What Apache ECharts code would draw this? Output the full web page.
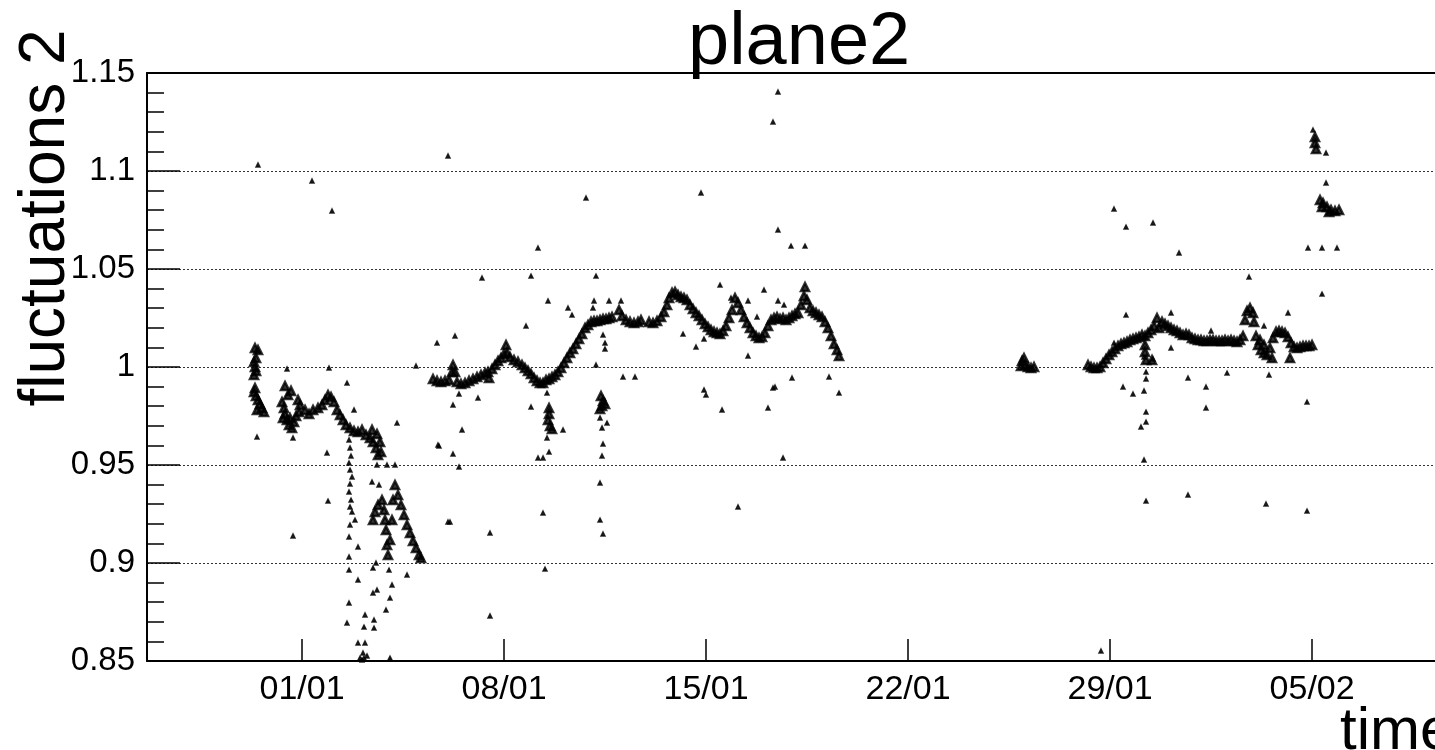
<!DOCTYPE html>
<html>
<head>
<meta charset="utf-8">
<title>plane2</title>
<script src="https://cdn.jsdelivr.net/npm/echarts@6/dist/echarts.min.js"></script>
<style>
  html, body { margin: 0; padding: 0; background: #fff; }
  #chart { width: 1435px; height: 750px; }
</style>
</head>
<body>
<div id="chart"></div>
<script>
// x = days since 01/01 00:00, y = fluctuation value
let xRange = [-5.371, 39.258];
let yRange = [0.85, 1.15];
let tickDays = [0, 7, 14, 21, 28, 35];
let tickLabels = ["01/01", "08/01", "15/01", "22/01", "29/01", "05/02"];

// dense runs (the thick band)
let run1 = [
    [-1.629, 1.0097], [-1.525, 1.0087], [-1.594, 1.0046], [-1.663, 1.0026], [-1.629, 1.0000], [-1.594, 0.9980],
    [-1.663, 0.9959], [-1.629, 0.9893], [-1.663, 0.9872], [-1.594, 0.9852], [-1.525, 0.9832], [-1.455, 0.9811],
    [-1.386, 0.9791], [-1.559, 0.9781], [-1.317, 0.9770],
    [-0.693, 0.9821], [-0.624, 0.9791], [-0.589, 0.9760], [-0.520, 0.9730], [-0.450, 0.9704], [-0.347, 0.9689],
    [-0.277, 0.9719], [-0.208, 0.9750], [-0.485, 0.9857], [-0.589, 0.9903], [-0.381, 0.9878], [-0.139, 0.9832],
    [-0.069, 0.9806], [-0.104, 0.9770], [-0.658, 0.9740], [-0.416, 0.9740],
    [0.104, 0.9781], [0.243, 0.9760], [0.381, 0.9781], [0.554, 0.9791], [0.693, 0.9806], [0.797, 0.9832],
    [0.901, 0.9857], [1.005, 0.9847], [1.109, 0.9821], [1.213, 0.9781], [1.317, 0.9755], [1.421, 0.9730],
    [1.525, 0.9704], [1.663, 0.9689], [1.802, 0.9673], [1.940, 0.9668], [2.079, 0.9679], [2.218, 0.9653],
    [2.356, 0.9638], [2.460, 0.9617], [2.564, 0.9587], [2.633, 0.9551], [2.426, 0.9679], [2.599, 0.9658],
    [2.703, 0.9617], [2.737, 0.9566],
    [2.460, 0.9219], [2.529, 0.9260], [2.633, 0.9296], [2.772, 0.9321], [2.842, 0.9270], [2.876, 0.9219],
    [2.911, 0.9168], [2.945, 0.9092], [2.980, 0.9041], [3.049, 0.9117], [3.118, 0.9219], [3.153, 0.9321],
    [3.222, 0.9398], [3.326, 0.9347], [3.430, 0.9296], [3.534, 0.9245], [3.638, 0.9194], [3.742, 0.9153],
    [3.846, 0.9112], [3.950, 0.9077], [4.054, 0.9041], [4.123, 0.9026]
];
let run2 = [
    [4.539, 0.9939], [4.678, 0.9929], [4.816, 0.9923], [4.955, 0.9929], [5.094, 0.9934], [5.198, 0.9974],
    [5.232, 1.0010], [5.301, 0.9974], [5.371, 0.9923], [5.509, 0.9913], [5.648, 0.9918], [5.787, 0.9929],
    [5.925, 0.9939], [6.064, 0.9949], [6.202, 0.9959], [6.341, 0.9969], [6.445, 0.9974], [6.480, 0.9944],
    [6.584, 0.9990], [6.687, 1.0010], [6.791, 1.0031], [6.895, 1.0046], [6.999, 1.0066], [7.069, 1.0112],
    [7.103, 1.0071], [7.207, 1.0051], [7.346, 1.0036], [7.484, 1.0026], [7.623, 1.0010], [7.727, 0.9995],
    [7.831, 0.9980], [7.935, 0.9964], [8.039, 0.9944], [8.143, 0.9929], [8.247, 0.9918], [8.351, 0.9918],
    [8.455, 0.9934], [8.559, 0.9939], [8.662, 0.9949], [8.766, 0.9959], [8.870, 0.9974], [8.974, 0.9995],
    [9.078, 1.0020], [9.182, 1.0046], [9.286, 1.0071], [9.390, 1.0092], [9.494, 1.0117], [9.598, 1.0143],
    [9.702, 1.0168], [9.806, 1.0199], [9.910, 1.0214], [10.014, 1.0230], [10.118, 1.0235], [10.222, 1.0235],
    [10.326, 1.0240], [10.430, 1.0245], [10.534, 1.0245], [10.638, 1.0250], [10.742, 1.0255],
    [10.360, 0.9852], [10.430, 0.9827], [10.395, 0.9801], [10.499, 0.9811], [10.326, 0.9786],
    [8.559, 0.9791], [8.559, 0.9760], [8.524, 0.9730], [8.593, 0.9699], [8.662, 0.9684],
    [10.984, 1.0291], [11.088, 1.0260], [11.227, 1.0240], [11.365, 1.0230], [11.504, 1.0224], [11.642, 1.0230],
    [11.746, 1.0240],
    [12.024, 1.0230], [12.162, 1.0224], [12.301, 1.0235], [12.440, 1.0255], [12.543, 1.0281], [12.647, 1.0316],
    [12.717, 1.0352], [12.821, 1.0378], [12.924, 1.0383], [13.028, 1.0367], [13.132, 1.0357], [13.236, 1.0352],
    [13.340, 1.0342], [13.444, 1.0316], [13.548, 1.0296], [13.652, 1.0276], [13.756, 1.0260], [13.860, 1.0240],
    [13.964, 1.0219], [14.068, 1.0204], [14.172, 1.0189], [14.276, 1.0179], [14.380, 1.0173], [14.484, 1.0168],
    [14.588, 1.0184], [14.692, 1.0209], [14.796, 1.0250], [14.900, 1.0291], [15.003, 1.0352], [15.107, 1.0327],
    [15.211, 1.0291], [15.315, 1.0255], [15.419, 1.0224], [15.523, 1.0199], [15.627, 1.0173], [15.731, 1.0158],
    [15.835, 1.0148], [15.939, 1.0153], [16.043, 1.0173], [16.147, 1.0209], [16.251, 1.0240], [16.355, 1.0250],
    [16.459, 1.0255], [16.563, 1.0245], [16.667, 1.0250], [16.771, 1.0240], [16.875, 1.0250], [16.979, 1.0260],
    [17.082, 1.0270], [17.186, 1.0276], [17.290, 1.0316], [17.394, 1.0362], [17.429, 1.0408], [17.498, 1.0342],
    [17.602, 1.0301], [17.706, 1.0286], [17.810, 1.0276], [17.914, 1.0265], [18.018, 1.0255], [18.122, 1.0230],
    [18.226, 1.0199], [18.330, 1.0158], [18.434, 1.0117], [18.538, 1.0087], [18.607, 1.0056]
];
let run3 = [
    [24.948, 1.0031], [25.052, 1.0010], [25.156, 1.0000], [25.260, 0.9995], [25.364, 1.0000], [24.913, 1.0005],
    [25.017, 1.0046]
];
let run4 = [
    [27.235, 1.0010], [27.339, 1.0000], [27.443, 0.9995], [27.547, 0.9995], [27.651, 1.0000], [27.755, 1.0020],
    [27.859, 1.0041], [27.963, 1.0061], [28.067, 1.0077], [28.170, 1.0092], [28.274, 1.0107], [28.378, 1.0117],
    [28.482, 1.0122], [28.586, 1.0128], [28.690, 1.0138], [28.794, 1.0143], [28.898, 1.0148], [29.002, 1.0153],
    [29.106, 1.0163], [29.210, 1.0158], [29.314, 1.0173], [29.418, 1.0189], [29.522, 1.0209], [29.626, 1.0250],
    [29.695, 1.0199], [29.799, 1.0230], [29.903, 1.0219], [30.007, 1.0209], [30.111, 1.0199], [30.215, 1.0189],
    [30.319, 1.0184], [30.423, 1.0173], [30.527, 1.0163], [30.631, 1.0168], [30.735, 1.0163], [30.838, 1.0148],
    [30.942, 1.0143], [31.046, 1.0138], [31.150, 1.0138], [31.254, 1.0133], [31.358, 1.0133], [31.462, 1.0138],
    [31.566, 1.0138], [31.670, 1.0133], [31.774, 1.0133], [31.878, 1.0133], [31.982, 1.0138], [32.086, 1.0133],
    [32.190, 1.0138], [32.294, 1.0133], [32.398, 1.0128], [32.502, 1.0138], [32.606, 1.0158], [32.675, 1.0240],
    [32.744, 1.0286], [32.848, 1.0301], [32.952, 1.0276], [32.987, 1.0230], [33.056, 1.0158], [33.125, 1.0112],
    [33.229, 1.0087], [33.333, 1.0071], [33.437, 1.0061], [33.541, 1.0097], [33.645, 1.0148], [33.749, 1.0179],
    [33.853, 1.0184], [33.957, 1.0179], [34.061, 1.0173], [34.165, 1.0153], [34.269, 1.0122], [34.373, 1.0102],
    [34.477, 1.0097], [34.581, 1.0102], [34.685, 1.0107], [34.789, 1.0107], [34.893, 1.0107], [34.997, 1.0112],
    [29.210, 1.0112], [29.210, 1.0077], [29.245, 1.0036], [29.453, 1.0036], [33.195, 1.0138], [33.333, 1.0112],
    [33.610, 1.0046], [34.234, 1.0046]
];
let run5 = [
    [35.100, 1.1173], [35.100, 1.1143], [35.135, 1.1112], [35.274, 1.0852], [35.378, 1.0837], [35.516, 1.0816],
    [35.655, 1.0801], [35.793, 1.0796], [35.932, 1.0801], [35.343, 1.0816], [35.586, 1.0791]
];

// isolated points
let stray1 = [
    [-1.559, 0.9643], [-0.312, 0.9638], [-0.520, 0.9990], [0.936, 0.9995], [1.559, 0.9918], [1.802, 0.9781],
    [3.292, 0.9714], [3.950, 1.0005], [4.678, 1.0122], [4.712, 0.9602], [0.866, 0.9561], [0.901, 0.9316],
    [-0.312, 0.9138], [3.638, 0.8939], [5.059, 0.9209], [2.426, 0.9413], [2.668, 0.9398], [2.599, 0.9500],
    [2.945, 0.9500], [3.222, 0.9500], [1.940, 0.8913], [1.629, 0.8796], [1.559, 0.8694], [2.183, 0.8735],
    [2.148, 0.8673], [2.495, 0.8709], [2.495, 0.8668], [2.183, 0.8592], [1.940, 0.8592], [2.114, 0.8541],
    [2.010, 0.8515], [2.148, 0.8515], [2.252, 0.8526], [2.079, 0.8505], [2.460, 0.8974], [2.564, 0.9000],
    [3.015, 0.8964], [3.118, 0.8888], [3.049, 0.8821], [2.911, 0.8760], [2.599, 0.8862], [2.460, 0.8847],
    [1.629, 0.9133], [1.663, 0.9194], [1.629, 0.9031], [1.629, 0.8964], [1.940, 0.9082], [3.049, 0.8515],
    [-1.525, 1.1031], [0.347, 1.0949], [1.040, 1.0796], [1.733, 0.9260], [1.836, 0.9219],
    [1.629, 0.9628], [1.663, 0.9587], [1.698, 0.9546], [1.629, 0.9510], [1.663, 0.9474], [1.733, 0.9439],
    [1.663, 0.9403], [1.629, 0.9362], [1.698, 0.9321], [1.663, 0.9286]
];
let stray2 = [
    [5.059, 1.1077], [9.841, 1.0862], [8.177, 1.0607], [6.237, 1.0454], [7.935, 1.0464], [10.187, 1.0464],
    [8.524, 1.0337], [9.217, 1.0301], [9.355, 1.0265], [10.118, 1.0337], [10.083, 1.0301], [10.638, 1.0337],
    [11.053, 1.0337], [7.762, 1.0209], [5.301, 1.0158], [5.440, 0.9862], [5.232, 0.9806], [6.098, 0.9842],
    [5.544, 0.9679], [4.747, 0.9597], [5.232, 0.9556], [5.440, 0.9490], [7.935, 0.9796], [9.044, 0.9679],
    [5.128, 0.9209], [6.514, 0.9153], [6.514, 0.8730], [11.123, 0.9949], [11.538, 0.9949], [8.489, 0.9867],
    [8.489, 0.9638], [8.559, 0.9566], [8.177, 0.9536], [8.351, 0.9536], [8.351, 0.9255], [8.420, 0.8969],
    [10.326, 0.9740], [10.568, 0.9714], [10.395, 0.9689], [10.430, 0.9607], [10.395, 0.9546], [10.326, 0.9408],
    [10.326, 0.9219], [10.430, 0.9148], [10.430, 1.0163], [10.499, 1.0122], [10.499, 1.0092], [10.187, 1.0010],
    [16.493, 1.1403], [16.320, 1.1250], [13.825, 1.0888], [16.493, 1.0699], [16.944, 1.0617], [17.429, 1.0617],
    [14.484, 1.0418], [16.008, 1.0393], [14.865, 1.0352], [15.454, 1.0337], [16.493, 1.0337], [16.701, 1.0316],
    [13.202, 1.0168], [13.929, 1.0143], [13.652, 1.0102], [15.766, 1.0255], [15.454, 1.0056], [16.979, 0.9944],
    [18.261, 0.9949], [18.607, 0.9867], [13.929, 0.9883], [13.998, 0.9857], [14.553, 0.9781], [16.147, 0.9791],
    [16.320, 0.9893], [16.389, 0.9898], [16.667, 0.9536], [15.107, 0.9286]
];
let stray4 = [
    [32.814, 1.0459], [28.136, 1.0806], [28.552, 1.0714], [29.487, 1.0735], [30.388, 1.0582], [28.552, 1.0265],
    [30.111, 1.0276], [34.165, 1.0276], [28.136, 1.0122], [30.111, 1.0097], [31.497, 1.0184], [33.333, 1.0209],
    [29.175, 1.0051], [29.487, 1.0041], [29.245, 0.9974], [29.245, 0.9939], [28.448, 0.9898], [28.794, 0.9862],
    [29.175, 0.9878], [30.700, 0.9944], [31.324, 0.9898], [32.052, 0.9969], [33.507, 0.9959], [34.823, 0.9821],
    [31.324, 0.9791], [29.245, 0.9770], [29.245, 0.9719], [29.071, 0.9694], [29.175, 0.9526], [29.245, 0.9316],
    [30.700, 0.9347], [33.403, 0.9301], [34.823, 0.9265], [27.685, 0.8551]
];
let stray5 = [
    [35.031, 1.1209], [35.482, 1.1092], [35.482, 1.0939], [34.858, 1.0607], [35.343, 1.0607], [35.863, 1.0607],
    [35.343, 1.0372]
];

let fontFam = "Liberation Sans, Arial, Helvetica, sans-serif";
let chartDom = document.getElementById("chart");
let myChart = echarts.init(chartDom);
let option;
option = {
    animation: false,
    backgroundColor: "#fff",
    title: {
        text: "plane2",
        left: 683,
        top: 2,
        textStyle: { fontFamily: fontFam, fontWeight: "normal", fontSize: 74, color: "#000" }
    },
    grid: {
        left: 147,
        top: 73,
        right: 0,
        bottom: 89,
        outerBoundsMode: "none"
    },
    xAxis: [
        {
            type: "value",
            position: "bottom",
            min: xRange[0],
            max: xRange[1],
            axisLine: { show: true, onZero: false, lineStyle: { color: "#000", width: 2 } },
            axisTick: {
                show: true, inside: true, length: 22,
                customValues: tickDays,
                lineStyle: { color: "#000", width: 1.5 }
            },
            axisLabel: {
                customValues: tickDays,
                formatter: v => tickLabels[tickDays.indexOf(v)],
                color: "#000", fontFamily: fontFam, fontSize: 34, margin: 12
            },
            splitLine: { show: false }
        },
        {
            type: "value",
            position: "top",
            min: xRange[0],
            max: xRange[1],
            axisLine: { show: true, onZero: false, lineStyle: { color: "#000", width: 2 } },
            axisTick: { show: false },
            axisLabel: { show: false },
            splitLine: { show: false }
        }
    ],
    yAxis: {
        type: "value",
        min: yRange[0],
        max: yRange[1],
        interval: 0.05,
        axisLine: { show: true, onZero: false, lineStyle: { color: "#000", width: 2 } },
        axisTick: { show: true, inside: true, length: 33, lineStyle: { color: "#000", width: 1.5 } },
        minorTick: { show: true, splitNumber: 5, length: 17, lineStyle: { color: "#000", width: 1.5 } },
        axisLabel: { color: "#000", fontFamily: fontFam, fontSize: 33, margin: 12 },
        splitLine: { show: true, lineStyle: { color: "#333", width: 1, type: [2, 2] } }
    },
    graphic: [
        {
            type: "text",
            x: 46,
            y: 218,
            rotation: Math.PI / 2,
            style: {
                text: "fluctuations 2",
                font: "64px " + fontFam,
                fill: "#000",
                textAlign: "center",
                textVerticalAlign: "middle"
            }
        },
        {
            type: "text",
            x: 1340,
            y: 762,
            style: {
                text: "time",
                font: "60px " + fontFam,
                fill: "#000",
                textAlign: "left",
                textVerticalAlign: "bottom"
            }
        }
    ],
    series: [
        {
            name: "band",
            type: "scatter",
            symbol: "triangle",
            symbolSize: 8,
            itemStyle: { color: "#000", borderColor: "#000", borderWidth: 2.5 },
            data: run1.concat(run2, run3, run4, run5)
        },
        {
            name: "stray",
            type: "scatter",
            symbol: "triangle",
            symbolSize: 4,
            itemStyle: { color: "#000", borderColor: "#000", borderWidth: 1.5 },
            data: stray1.concat(stray2, stray4, stray5)
        }
    ]
};
option && myChart.setOption(option);
</script>
</body>
</html>
